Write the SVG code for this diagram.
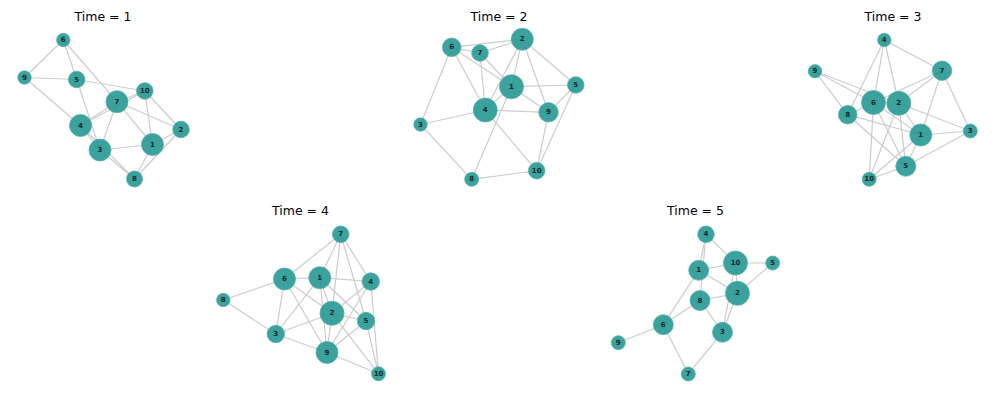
<svg xmlns="http://www.w3.org/2000/svg" width="997" height="399" viewBox="0 0 997 399">
<style>
.title{font-family:"DejaVu Sans",sans-serif;font-size:12.5px;fill:#000;text-anchor:middle}
.e{stroke:#cccccc;stroke-width:1.2;fill:none}
.n circle{fill:#2a9a95;fill-opacity:0.92;stroke:#55b0ab;stroke-width:0.8}
.n text{font-family:"DejaVu Sans",sans-serif;font-size:7px;font-weight:600;fill:#1a2a2a;text-anchor:middle;dominant-baseline:central}
</style>
<rect width="997" height="399" fill="#fff"/>
<g id="titles">
<text class="title" x="103" y="20.5">Time = 1</text>
<text class="title" x="499" y="20.5">Time = 2</text>
<text class="title" x="893" y="20.5">Time = 3</text>
<text class="title" x="300.5" y="215">Time = 4</text>
<text class="title" x="695.5" y="215">Time = 5</text>
</g>
<g id="connectors">
<!-- Time 1 -->
<line class="e" x1="63.3" y1="40" x2="24.5" y2="77.5"/>
<line class="e" x1="63.3" y1="40" x2="76.7" y2="79.5"/>
<line class="e" x1="63.3" y1="40" x2="117" y2="101.7"/>
<line class="e" x1="24.5" y1="77.5" x2="76.7" y2="79.5"/>
<line class="e" x1="24.5" y1="77.5" x2="80.5" y2="125.5"/>
<line class="e" x1="76.7" y1="79.5" x2="144.8" y2="91"/>
<line class="e" x1="76.7" y1="79.5" x2="100" y2="150"/>
<line class="e" x1="144.8" y1="91" x2="117" y2="101.7"/>
<line class="e" x1="144.8" y1="91" x2="152.5" y2="144.5"/>
<line class="e" x1="144.8" y1="91" x2="181" y2="129.5"/>
<line class="e" x1="117" y1="101.7" x2="80.5" y2="125.5"/>
<line class="e" x1="80.5" y1="125.5" x2="144.8" y2="91"/>
<line class="e" x1="117" y1="101.7" x2="100" y2="150"/>
<line class="e" x1="117" y1="101.7" x2="152.5" y2="144.5"/>
<line class="e" x1="117" y1="101.7" x2="181" y2="129.5"/>
<line class="e" x1="80.5" y1="125.5" x2="100" y2="150"/>
<line class="e" x1="80.5" y1="125.5" x2="134.5" y2="179"/>
<line class="e" x1="100" y1="150" x2="134.5" y2="179"/>
<line class="e" x1="100" y1="150" x2="152.5" y2="144.5"/>
<line class="e" x1="152.5" y1="144.5" x2="181" y2="129.5"/>
<line class="e" x1="152.5" y1="144.5" x2="134.5" y2="179"/>
<line class="e" x1="181" y1="129.5" x2="134.5" y2="179"/>
<!-- Time 2 -->
<line class="e" x1="451.7" y1="47.3" x2="522.3" y2="39.3"/>
<line class="e" x1="451.7" y1="47.3" x2="480" y2="53"/>
<line class="e" x1="480" y1="53" x2="522.3" y2="39.3"/>
<line class="e" x1="451.7" y1="47.3" x2="511.5" y2="86.7"/>
<line class="e" x1="451.7" y1="47.3" x2="485.3" y2="110"/>
<line class="e" x1="451.7" y1="47.3" x2="420.5" y2="124.5"/>
<line class="e" x1="480" y1="53" x2="511.5" y2="86.7"/>
<line class="e" x1="480" y1="53" x2="485.3" y2="110"/>
<line class="e" x1="522.3" y1="39.3" x2="511.5" y2="86.7"/>
<line class="e" x1="522.3" y1="39.3" x2="485.3" y2="110"/>
<line class="e" x1="522.3" y1="39.3" x2="548.5" y2="112.3"/>
<line class="e" x1="522.3" y1="39.3" x2="575.8" y2="85"/>
<line class="e" x1="511.5" y1="86.7" x2="575.8" y2="85"/>
<line class="e" x1="511.5" y1="86.7" x2="548.5" y2="112.3"/>
<line class="e" x1="511.5" y1="86.7" x2="485.3" y2="110"/>
<line class="e" x1="485.3" y1="110" x2="548.5" y2="112.3"/>
<line class="e" x1="485.3" y1="110" x2="420.5" y2="124.5"/>
<line class="e" x1="511.5" y1="86.7" x2="471.7" y2="179.3"/>
<line class="e" x1="485.3" y1="110" x2="536.7" y2="170.7"/>
<line class="e" x1="548.5" y1="112.3" x2="575.8" y2="85"/>
<line class="e" x1="548.5" y1="112.3" x2="536.7" y2="170.7"/>
<line class="e" x1="575.8" y1="85" x2="536.7" y2="170.7"/>
<line class="e" x1="420.5" y1="124.5" x2="471.7" y2="179.3"/>
<line class="e" x1="471.7" y1="179.3" x2="536.7" y2="170.7"/>
<!-- Time 3 -->
<line class="e" x1="884.3" y1="40" x2="942" y2="70.7"/>
<line class="e" x1="884.3" y1="40" x2="847.7" y2="114.7"/>
<line class="e" x1="884.3" y1="40" x2="873.5" y2="102.5"/>
<line class="e" x1="884.3" y1="40" x2="898.8" y2="103.3"/>
<line class="e" x1="815" y1="71.3" x2="847.7" y2="114.7"/>
<line class="e" x1="815" y1="71.3" x2="873.5" y2="102.5"/>
<line class="e" x1="815" y1="71.3" x2="898.8" y2="103.3"/>
<line class="e" x1="942" y1="70.7" x2="873.5" y2="102.5"/>
<line class="e" x1="942" y1="70.7" x2="898.8" y2="103.3"/>
<line class="e" x1="942" y1="70.7" x2="920.8" y2="135"/>
<line class="e" x1="942" y1="70.7" x2="970.3" y2="131"/>
<line class="e" x1="873.5" y1="102.5" x2="847.7" y2="114.7"/>
<line class="e" x1="873.5" y1="102.5" x2="920.8" y2="135"/>
<line class="e" x1="873.5" y1="102.5" x2="905.8" y2="166.3"/>
<line class="e" x1="873.5" y1="102.5" x2="869.2" y2="179.3"/>
<line class="e" x1="898.8" y1="103.3" x2="970.3" y2="131"/>
<line class="e" x1="898.8" y1="103.3" x2="920.8" y2="135"/>
<line class="e" x1="898.8" y1="103.3" x2="905.8" y2="166.3"/>
<line class="e" x1="898.8" y1="103.3" x2="869.2" y2="179.3"/>
<line class="e" x1="847.7" y1="114.7" x2="920.8" y2="135"/>
<line class="e" x1="847.7" y1="114.7" x2="905.8" y2="166.3"/>
<line class="e" x1="920.8" y1="135" x2="970.3" y2="131"/>
<line class="e" x1="920.8" y1="135" x2="905.8" y2="166.3"/>
<line class="e" x1="920.8" y1="135" x2="869.2" y2="179.3"/>
<line class="e" x1="905.8" y1="166.3" x2="970.3" y2="131"/>
<line class="e" x1="905.8" y1="166.3" x2="869.2" y2="179.3"/>
<!-- Time 4 -->
<line class="e" x1="340.7" y1="234.3" x2="284.5" y2="279"/>
<line class="e" x1="340.7" y1="234.3" x2="319.8" y2="277.7"/>
<line class="e" x1="340.7" y1="234.3" x2="332" y2="313.3"/>
<line class="e" x1="340.7" y1="234.3" x2="370.8" y2="281.5"/>
<line class="e" x1="340.7" y1="234.3" x2="366" y2="321"/>
<line class="e" x1="284.5" y1="279" x2="319.8" y2="277.7"/>
<line class="e" x1="284.5" y1="279" x2="223.3" y2="300"/>
<line class="e" x1="284.5" y1="279" x2="275.8" y2="334"/>
<line class="e" x1="284.5" y1="279" x2="332" y2="313.3"/>
<line class="e" x1="284.5" y1="279" x2="327" y2="352.5"/>
<line class="e" x1="319.8" y1="277.7" x2="370.8" y2="281.5"/>
<line class="e" x1="319.8" y1="277.7" x2="275.8" y2="334"/>
<line class="e" x1="319.8" y1="277.7" x2="332" y2="313.3"/>
<line class="e" x1="319.8" y1="277.7" x2="327" y2="352.5"/>
<line class="e" x1="319.8" y1="277.7" x2="366" y2="321"/>
<line class="e" x1="332" y1="313.3" x2="370.8" y2="281.5"/>
<line class="e" x1="332" y1="313.3" x2="275.8" y2="334"/>
<line class="e" x1="332" y1="313.3" x2="366" y2="321"/>
<line class="e" x1="332" y1="313.3" x2="327" y2="352.5"/>
<line class="e" x1="332" y1="313.3" x2="378.5" y2="373.8"/>
<line class="e" x1="370.8" y1="281.5" x2="327" y2="352.5"/>
<line class="e" x1="370.8" y1="281.5" x2="378.5" y2="373.8"/>
<line class="e" x1="366" y1="321" x2="327" y2="352.5"/>
<line class="e" x1="366" y1="321" x2="378.5" y2="373.8"/>
<line class="e" x1="275.8" y1="334" x2="223.3" y2="300"/>
<line class="e" x1="275.8" y1="334" x2="327" y2="352.5"/>
<line class="e" x1="327" y1="352.5" x2="378.5" y2="373.8"/>
<!-- Time 5 -->
<line class="e" x1="706" y1="234.3" x2="698.7" y2="270.3"/>
<line class="e" x1="706" y1="234.3" x2="700" y2="300.5"/>
<line class="e" x1="706" y1="234.3" x2="735.5" y2="263"/>
<line class="e" x1="698.7" y1="270.3" x2="735.5" y2="263"/>
<line class="e" x1="698.7" y1="270.3" x2="737.5" y2="293.3"/>
<line class="e" x1="698.7" y1="270.3" x2="663.3" y2="324.7"/>
<line class="e" x1="700" y1="300.5" x2="737.5" y2="293.3"/>
<line class="e" x1="700" y1="300.5" x2="663.3" y2="324.7"/>
<line class="e" x1="700" y1="300.5" x2="722.5" y2="332.3"/>
<line class="e" x1="735.5" y1="263" x2="772.7" y2="263"/>
<line class="e" x1="735.5" y1="263" x2="737.5" y2="293.3"/>
<line class="e" x1="735.5" y1="263" x2="722.5" y2="332.3"/>
<line class="e" x1="737.5" y1="293.3" x2="772.7" y2="263"/>
<line class="e" x1="737.5" y1="293.3" x2="722.5" y2="332.3"/>
<line class="e" x1="663.3" y1="324.7" x2="618.3" y2="342.7"/>
<line class="e" x1="663.3" y1="324.7" x2="688.3" y2="374"/>
<line class="e" x1="722.5" y1="332.3" x2="688.3" y2="374"/>
</g>
<!-- Time 1 nodes -->
<g id="t1-n1" class="n"><circle cx="152.5" cy="144.5" r="11"/><text x="152.5" y="144.5">1</text></g>
<g id="t1-n2" class="n"><circle cx="181" cy="129.5" r="8.3"/><text x="181" y="129.5">2</text></g>
<g id="t1-n3" class="n"><circle cx="100" cy="150" r="11"/><text x="100" y="150">3</text></g>
<g id="t1-n4" class="n"><circle cx="80.5" cy="125.5" r="11"/><text x="80.5" y="125.5">4</text></g>
<g id="t1-n5" class="n"><circle cx="76.7" cy="79.5" r="8.3"/><text x="76.7" y="79.5">5</text></g>
<g id="t1-n6" class="n"><circle cx="63.3" cy="40" r="6.7"/><text x="63.3" y="40">6</text></g>
<g id="t1-n7" class="n"><circle cx="117" cy="101.7" r="11"/><text x="117" y="101.7">7</text></g>
<g id="t1-n8" class="n"><circle cx="134.5" cy="179" r="8"/><text x="134.5" y="179">8</text></g>
<g id="t1-n9" class="n"><circle cx="24.5" cy="77.5" r="6.7"/><text x="24.5" y="77.5">9</text></g>
<g id="t1-n10" class="n"><circle cx="144.8" cy="91" r="8.3"/><text x="144.8" y="91">10</text></g>
<!-- Time 2 nodes -->
<g id="t2-n1" class="n"><circle cx="511.5" cy="86.7" r="12"/><text x="511.5" y="86.7">1</text></g>
<g id="t2-n2" class="n"><circle cx="522.3" cy="39.3" r="11"/><text x="522.3" y="39.3">2</text></g>
<g id="t2-n3" class="n"><circle cx="420.5" cy="124.5" r="6.7"/><text x="420.5" y="124.5">3</text></g>
<g id="t2-n4" class="n"><circle cx="485.3" cy="110" r="12"/><text x="485.3" y="110">4</text></g>
<g id="t2-n5" class="n"><circle cx="575.8" cy="85" r="8.3"/><text x="575.8" y="85">5</text></g>
<g id="t2-n6" class="n"><circle cx="451.7" cy="47.3" r="9.3"/><text x="451.7" y="47.3">6</text></g>
<g id="t2-n7" class="n"><circle cx="480" cy="53" r="8.3"/><text x="480" y="53">7</text></g>
<g id="t2-n8" class="n"><circle cx="471.7" cy="179.3" r="7"/><text x="471.7" y="179.3">8</text></g>
<g id="t2-n9" class="n"><circle cx="548.5" cy="112.3" r="9.7"/><text x="548.5" y="112.3">9</text></g>
<g id="t2-n10" class="n"><circle cx="536.7" cy="170.7" r="8.3"/><text x="536.7" y="170.7">10</text></g>
<!-- Time 3 nodes -->
<g id="t3-n1" class="n"><circle cx="920.8" cy="135" r="11"/><text x="920.8" y="135">1</text></g>
<g id="t3-n2" class="n"><circle cx="898.8" cy="103.3" r="12"/><text x="898.8" y="103.3">2</text></g>
<g id="t3-n3" class="n"><circle cx="970.3" cy="131" r="7"/><text x="970.3" y="131">3</text></g>
<g id="t3-n4" class="n"><circle cx="884.3" cy="40" r="6.7"/><text x="884.3" y="40">4</text></g>
<g id="t3-n5" class="n"><circle cx="905.8" cy="166.3" r="10"/><text x="905.8" y="166.3">5</text></g>
<g id="t3-n6" class="n"><circle cx="873.5" cy="102.5" r="12"/><text x="873.5" y="102.5">6</text></g>
<g id="t3-n7" class="n"><circle cx="942" cy="70.7" r="9.7"/><text x="942" y="70.7">7</text></g>
<g id="t3-n8" class="n"><circle cx="847.7" cy="114.7" r="9.3"/><text x="847.7" y="114.7">8</text></g>
<g id="t3-n9" class="n"><circle cx="815" cy="71.3" r="6.7"/><text x="815" y="71.3">9</text></g>
<g id="t3-n10" class="n"><circle cx="869.2" cy="179.3" r="7"/><text x="869.2" y="179.3">10</text></g>
<!-- Time 4 nodes -->
<g id="t4-n1" class="n"><circle cx="319.8" cy="277.7" r="11"/><text x="319.8" y="277.7">1</text></g>
<g id="t4-n2" class="n"><circle cx="332" cy="313.3" r="12"/><text x="332" y="313.3">2</text></g>
<g id="t4-n3" class="n"><circle cx="275.8" cy="334" r="8.7"/><text x="275.8" y="334">3</text></g>
<g id="t4-n4" class="n"><circle cx="370.8" cy="281.5" r="8.7"/><text x="370.8" y="281.5">4</text></g>
<g id="t4-n5" class="n"><circle cx="366" cy="321" r="8.7"/><text x="366" y="321">5</text></g>
<g id="t4-n6" class="n"><circle cx="284.5" cy="279" r="11"/><text x="284.5" y="279">6</text></g>
<g id="t4-n7" class="n"><circle cx="340.7" cy="234.3" r="8.3"/><text x="340.7" y="234.3">7</text></g>
<g id="t4-n8" class="n"><circle cx="223.3" cy="300" r="6.7"/><text x="223.3" y="300">8</text></g>
<g id="t4-n9" class="n"><circle cx="327" cy="352.5" r="11"/><text x="327" y="352.5">9</text></g>
<g id="t4-n10" class="n"><circle cx="378.5" cy="373.8" r="7"/><text x="378.5" y="373.8">10</text></g>
<!-- Time 5 nodes -->
<g id="t5-n1" class="n"><circle cx="698.7" cy="270.3" r="10"/><text x="698.7" y="270.3">1</text></g>
<g id="t5-n2" class="n"><circle cx="737.5" cy="293.3" r="12"/><text x="737.5" y="293.3">2</text></g>
<g id="t5-n3" class="n"><circle cx="722.5" cy="332.3" r="10"/><text x="722.5" y="332.3">3</text></g>
<g id="t5-n4" class="n"><circle cx="706" cy="234.3" r="8.3"/><text x="706" y="234.3">4</text></g>
<g id="t5-n5" class="n"><circle cx="772.7" cy="263" r="7"/><text x="772.7" y="263">5</text></g>
<g id="t5-n6" class="n"><circle cx="663.3" cy="324.7" r="10"/><text x="663.3" y="324.7">6</text></g>
<g id="t5-n7" class="n"><circle cx="688.3" cy="374" r="7"/><text x="688.3" y="374">7</text></g>
<g id="t5-n8" class="n"><circle cx="700" cy="300.5" r="10"/><text x="700" y="300.5">8</text></g>
<g id="t5-n9" class="n"><circle cx="618.3" cy="342.7" r="7"/><text x="618.3" y="342.7">9</text></g>
<g id="t5-n10" class="n"><circle cx="735.5" cy="263" r="12"/><text x="735.5" y="263">10</text></g>
</svg>
